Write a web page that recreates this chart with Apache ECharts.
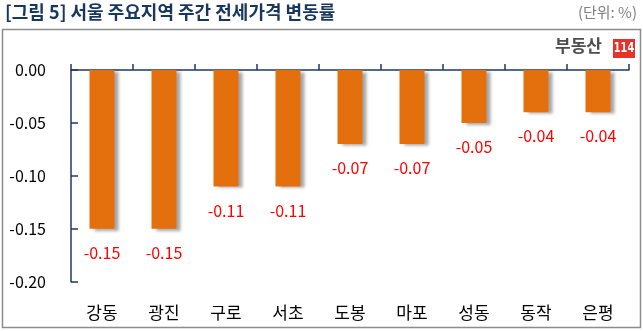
<!DOCTYPE html>
<html><head><meta charset="utf-8">
<script src="https://cdn.jsdelivr.net/npm/echarts@6/dist/echarts.min.js"></script>
<style>html,body{margin:0;padding:0;background:#fff}#c{width:643px;height:331px}</style>
</head><body><div id="c"></div>
<script>
const categories = ['강동','광진','구로','서초','도봉','마포','성동','동작','은평'];
const values = [-0.15,-0.15,-0.11,-0.11,-0.07,-0.07,-0.05,-0.04,-0.04];
const titleText = '[그림 5] 서울 주요지역 주간 전세가격 변동률';
const unitText = '(단위: %)';
const font = '"Noto Sans CJK KR","Noto Sans",sans-serif';
const navy = '#1F3864';
const chart = echarts.init(document.getElementById('c'));
chart.setOption({
  animation:false,
  grid:{left:71,top:70,right:14,bottom:49.3},
  graphic:[
    {type:'rect',shape:{x:2.5,y:29.5,width:638,height:298},style:{fill:'none',stroke:'#8c8c8c',lineWidth:1.5},z:-1},
    {type:'text',left:5,top:3,style:{text:titleText,font:'bold 18px '+font,fill:'#17375E'}},
    {type:'text',right:6,top:5,style:{text:unitText,font:'15px '+font,fill:'#7f7f7f'}},
    {type:'text',left:555,top:37,style:{text:'부동산',font:'bold 17px '+font,fill:'#4d4d4d'}},
    {type:'rect',shape:{x:613,y:39,width:22,height:19},style:{fill:'#E5322B'}},
    {type:'text',x:624,y:48.5,scaleX:0.7,style:{text:'114',align:'center',verticalAlign:'middle',font:'bold 14px "DejaVu Sans",sans-serif',fill:'#fff'}}
  ],
  xAxis:[
    {type:'category',data:categories,position:'top',
     axisLine:{lineStyle:{color:navy,width:1.5}},
     axisTick:{show:true,length:6,lineStyle:{color:navy,width:1.5}},
     axisLabel:{show:false}},
    {type:'category',data:categories,position:'bottom',
     axisLine:{show:false},axisTick:{show:false},
     axisLabel:{margin:22,fontSize:17,color:'#000',fontFamily:font}}
  ],
  yAxis:{type:'value',min:-0.2,max:0,interval:0.05,
    axisLine:{show:true,lineStyle:{color:navy,width:1.5}},
    axisTick:{show:true,inside:true,length:7,lineStyle:{color:navy,width:1.5}},
    splitLine:{show:false},
    axisLabel:{margin:25,fontSize:16,color:'#000',fontFamily:font,formatter:v=>v.toFixed(2)}},
  series:[{type:'bar',data:values,barWidth:25,xAxisIndex:0,
    itemStyle:{color:'#E3700D',shadowColor:'rgba(0,0,0,0.35)',shadowOffsetX:4,shadowOffsetY:2,shadowBlur:3},
    label:{show:true,position:'bottom',distance:16,fontSize:16,color:'#FF0000',fontFamily:font,formatter:p=>p.value.toFixed(2)}}]
});
</script></body></html>
